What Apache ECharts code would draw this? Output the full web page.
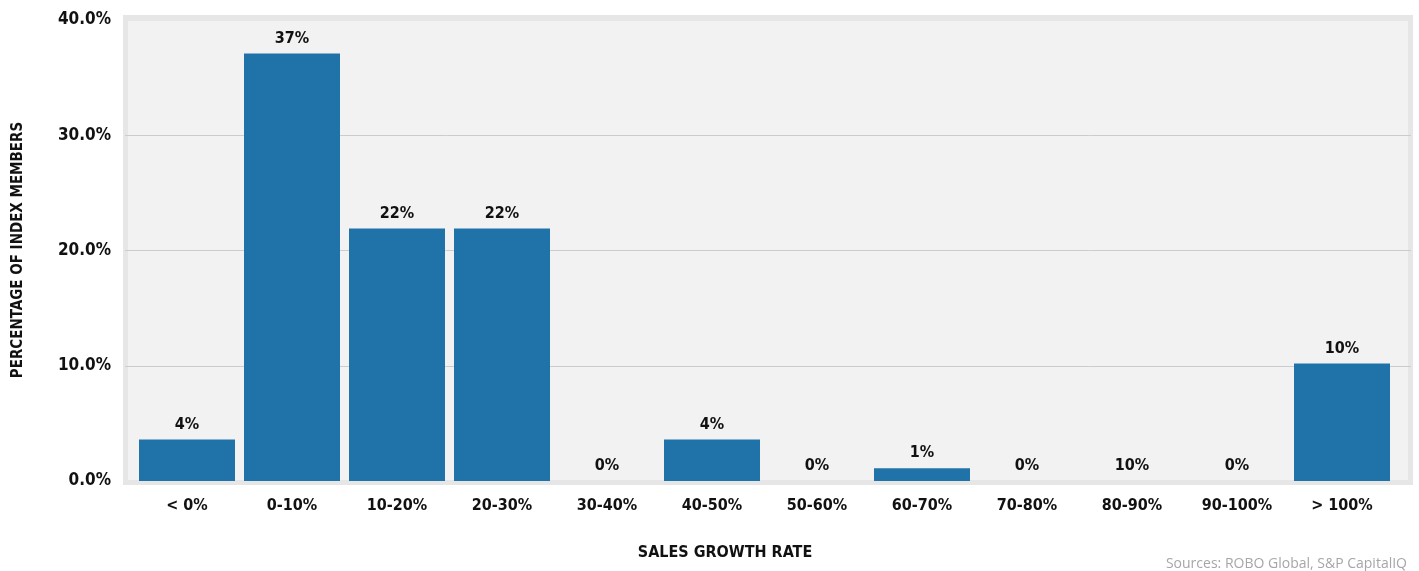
<!DOCTYPE html>
<html><head><meta charset="utf-8">
<script src="https://cdn.jsdelivr.net/npm/echarts@6/dist/echarts.min.js"></script>
<style>html,body{margin:0;padding:0;background:#fff}#c{width:1419px;height:571px}</style>
</head><body><div id="c"></div>
<script>
const categories = ['< 0%','0-10%','10-20%','20-30%','30-40%','40-50%','50-60%','60-70%','70-80%','80-90%','90-100%','> 100%'];
const values = [3.6, 37.1, 21.9, 21.9, 0, 3.6, 0, 1.1, 0, 0, 0, 10.2];
const barLabels = ['4%','37%','22%','22%','0%','4%','0%','1%','0%','10%','0%','10%'];
const yMin = 0, yMax = 40, yStep = 10;
const yTitle = 'PERCENTAGE OF INDEX MEMBERS';
const xTitle = 'SALES GROWTH RATE';
const source = 'Sources: ROBO Global, S&P CapitalIQ';

const FONT = '"Liberation Sans Narrow","DejaVu Sans Condensed","Roboto Condensed",Arial,sans-serif';
const chart = echarts.init(document.getElementById('c'), null, {renderer:'canvas'});
chart.setOption({
  animation:false,
  backgroundColor:'#ffffff',
  grid:[
    {left:125, right:8, top:20, bottom:90},
    {left:134.5, right:24.5, top:20, bottom:90}
  ],
  graphic:[
    {type:'rect', z:-10, shape:{x:125.5, y:17.5, width:1285, height:465}, style:{fill:'#f2f2f2', stroke:'#e6e6e6', lineWidth:5}},
    {type:'text', rotation:Math.PI/2, x:18, y:250, style:{text:yTitle, font:'bold 15px '+FONT, fill:'#111', textAlign:'center', textVerticalAlign:'middle'}},
    {type:'text', x:725, y:553, style:{text:xTitle, font:'bold 16px '+FONT, fill:'#111', textAlign:'center', textVerticalAlign:'middle'}},
    {type:'text', x:1407, y:564, style:{text:source, font:'14px "Open Sans",sans-serif', fill:'#a6a6a6', textAlign:'right', textVerticalAlign:'middle'}}
  ],
  xAxis:[
    {gridIndex:0, type:'value', show:false, min:0, max:1},
    {gridIndex:1, type:'category', data:categories, axisLine:{show:false}, axisTick:{show:false},
     axisLabel:{margin:17, color:'#111', fontFamily:FONT, fontWeight:'bold', fontSize:16, interval:0}}
  ],
  yAxis:[
    {gridIndex:0, type:'value', min:yMin, max:yMax, interval:yStep,
     axisLine:{show:false}, axisTick:{show:false},
     axisLabel:{margin:14, color:'#111', fontFamily:FONT, fontWeight:'bold', fontSize:17, formatter:v=>v.toFixed(1)+'%'},
     splitLine:{show:true, lineStyle:{color:['#e6e6e6','#cccccc','#cccccc','#cccccc','#e6e6e6'], width:1}}},
    {gridIndex:1, type:'value', min:yMin, max:yMax, interval:yStep, show:false, splitLine:{show:false}}
  ],
  series:[{
    type:'bar', xAxisIndex:1, yAxisIndex:1, data:values, barWidth:96,
    itemStyle:{color:'#1f73a9'},
    label:{show:true, position:'top', distance:7, color:'#111', fontFamily:FONT, fontWeight:'bold', fontSize:16,
      formatter:p=>barLabels[p.dataIndex]}
  }]
});
</script></body></html>
